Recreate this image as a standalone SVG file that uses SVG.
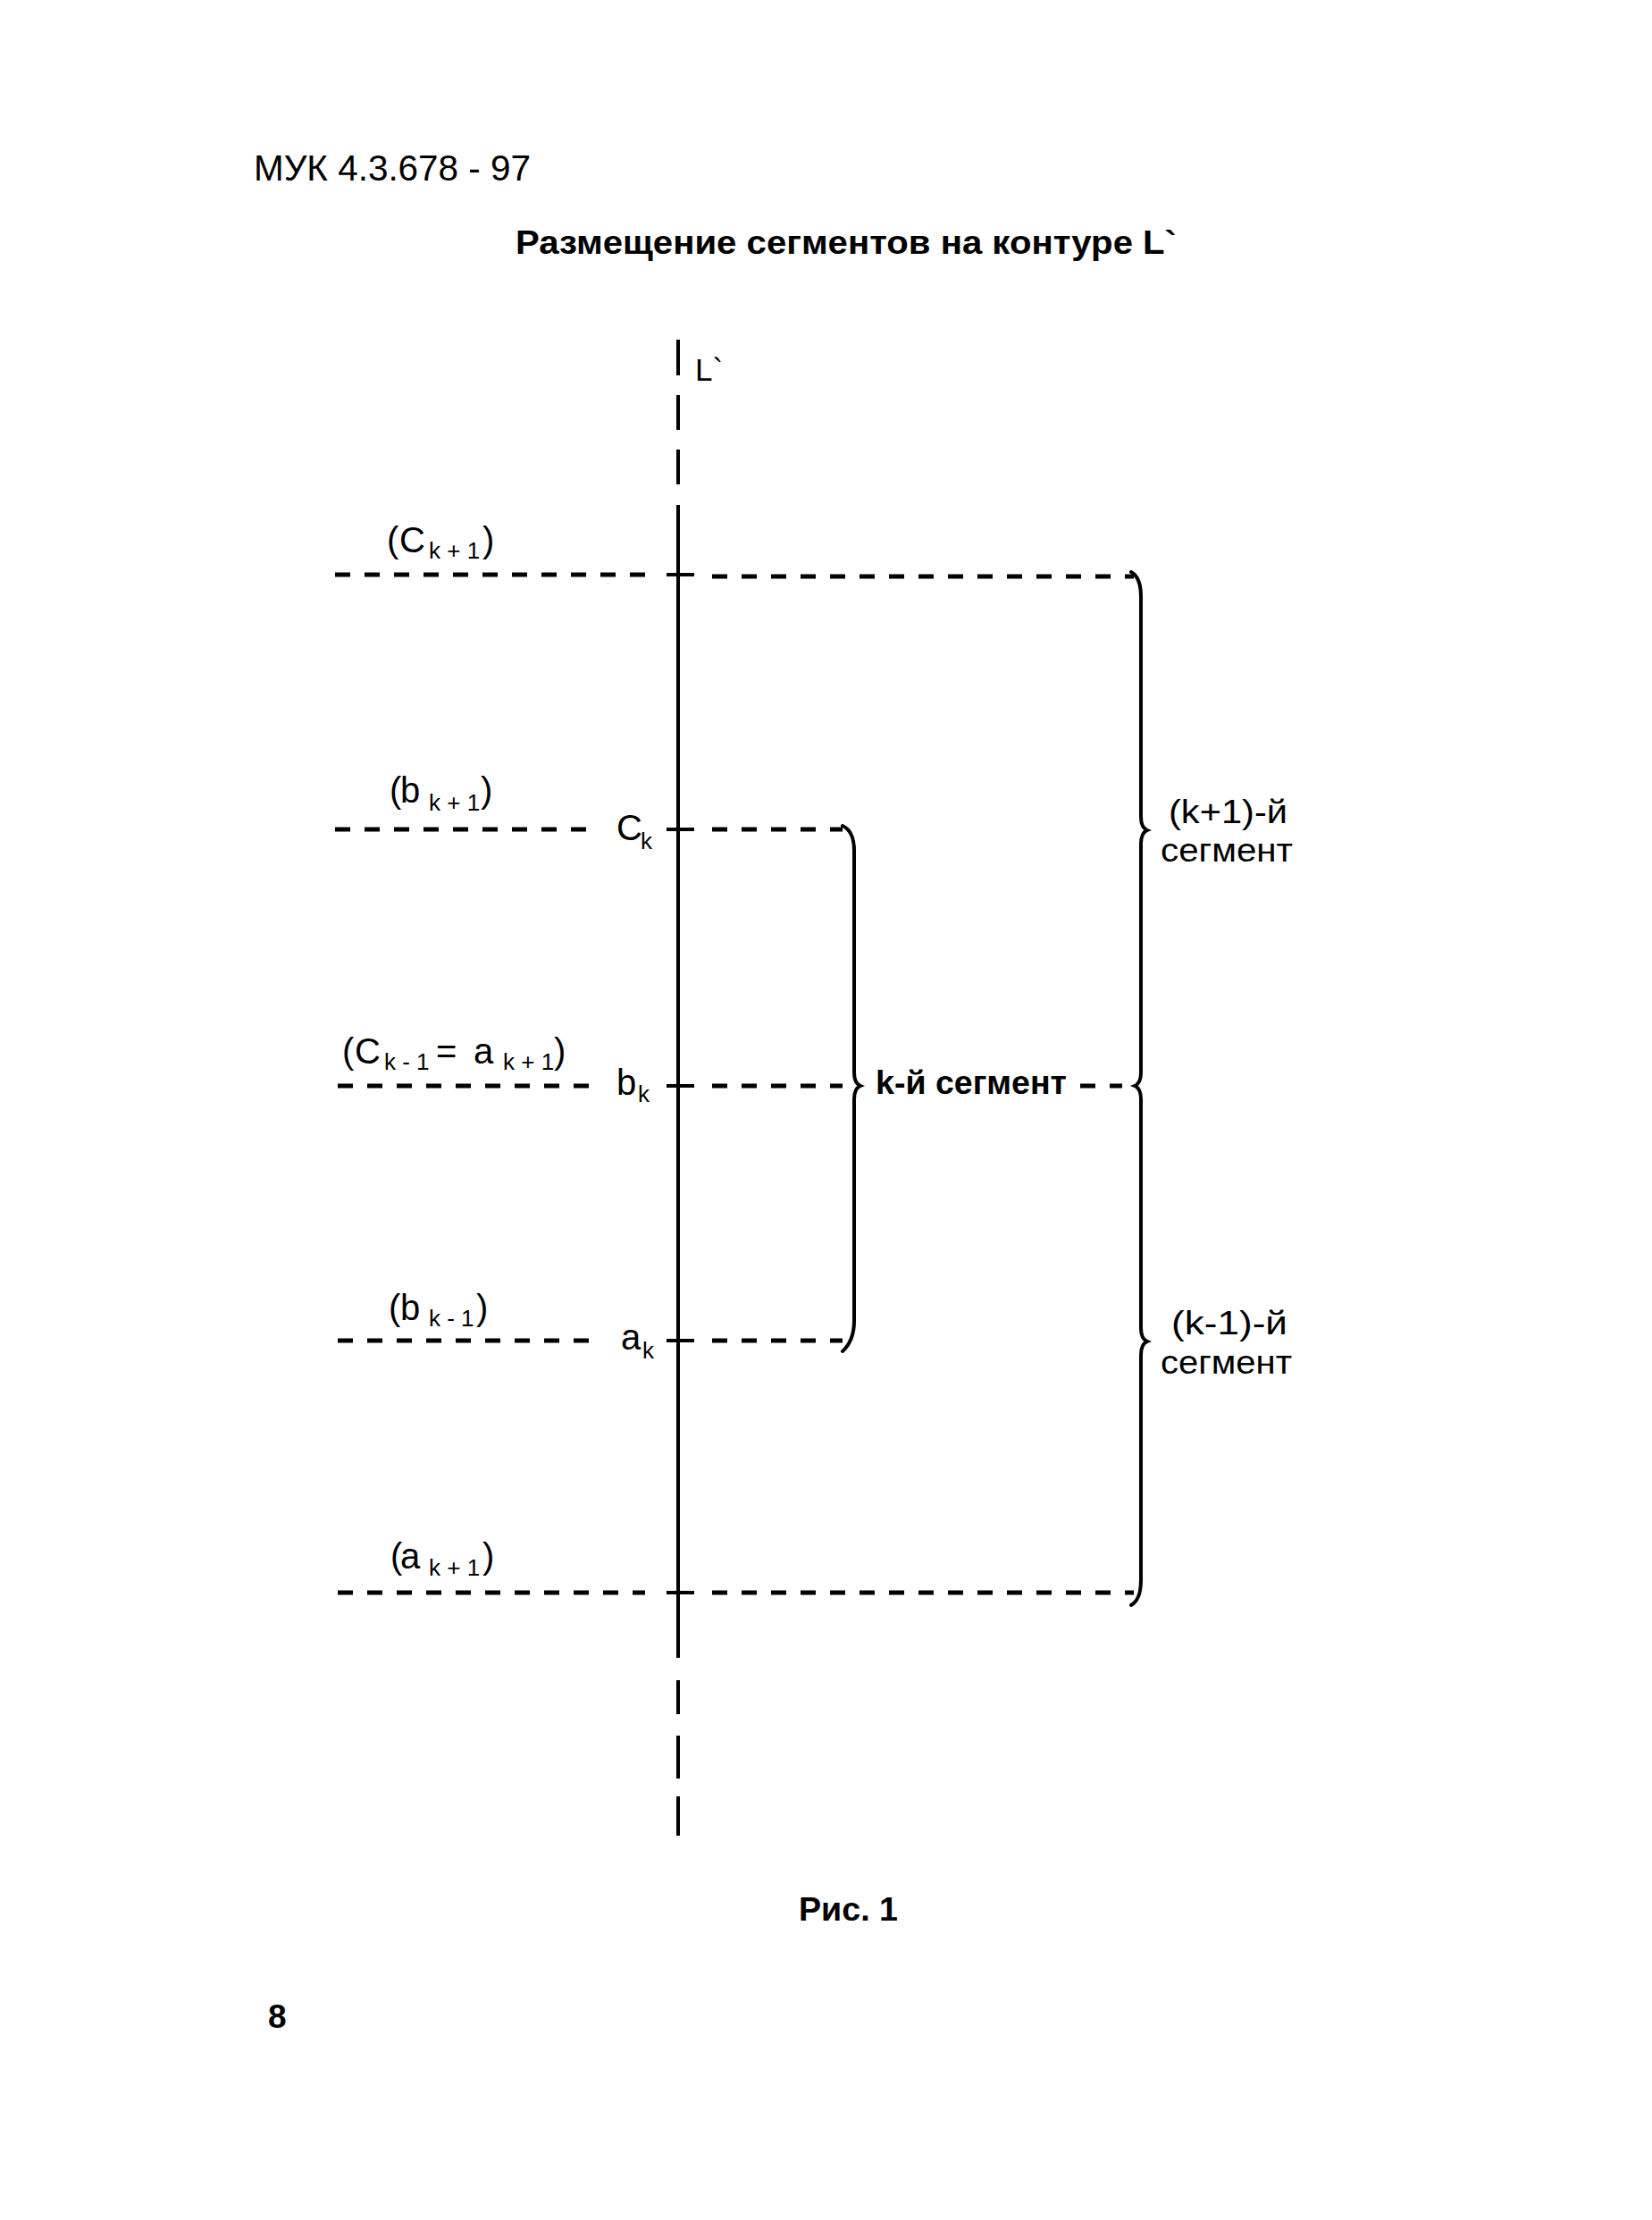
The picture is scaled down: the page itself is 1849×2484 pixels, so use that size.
<svg xmlns="http://www.w3.org/2000/svg" width="1849" height="2484" viewBox="0 0 1849 2484">
<style>
text{font-family:"Liberation Sans",Arial,sans-serif;fill:#000}
.m{font-size:40px}
.s{font-size:26px}
.b{font-weight:bold}
.dash{stroke:#000;stroke-width:5;stroke-dasharray:17 16;fill:none}
.solid{stroke:#000;stroke-width:4;fill:none}
.br{stroke:#000;stroke-width:4;fill:none;stroke-linecap:round}
</style>
<rect width="1849" height="2484" fill="#fff"/>
<g id="header">
<text x="284" y="202" class="m" textLength="310" lengthAdjust="spacingAndGlyphs">МУК 4.3.678 - 97</text>
<text x="577" y="284" class="b" font-size="37" textLength="740" lengthAdjust="spacingAndGlyphs">Размещение сегментов на контуре L`</text>
</g>
<g id="axis">
<line class="solid" x1="759" y1="380" x2="759" y2="420"/>
<line class="solid" x1="759" y1="442" x2="759" y2="481"/>
<line class="solid" x1="759" y1="503" x2="759" y2="542"/>
<line class="solid" x1="759" y1="565" x2="759" y2="1855"/>
<line class="solid" x1="759" y1="1880" x2="759" y2="1918"/>
<line class="solid" x1="759" y1="1942" x2="759" y2="1990"/>
<line class="solid" x1="759" y1="2010" x2="759" y2="2054"/>
<text x="778" y="426" font-size="35">L`</text>
</g>
<g id="connectors">
<line class="dash" x1="375" y1="643" x2="722" y2="643"/>
<line class="dash" x1="375" y1="928" x2="672" y2="928"/>
<line class="dash" x1="378" y1="1215" x2="672" y2="1215"/>
<line class="dash" x1="378" y1="1500" x2="670" y2="1500"/>
<line class="dash" x1="378" y1="1782" x2="722" y2="1782"/>
<line class="solid" x1="746" y1="643" x2="777" y2="643" stroke-width="5"/>
<line class="solid" x1="746" y1="928" x2="777" y2="928" stroke-width="5"/>
<line class="solid" x1="746" y1="1215" x2="777" y2="1215" stroke-width="5"/>
<line class="solid" x1="746" y1="1500" x2="777" y2="1500" stroke-width="5"/>
<line class="solid" x1="746" y1="1782" x2="777" y2="1782" stroke-width="5"/>
<line class="dash" x1="797" y1="645" x2="1269" y2="645"/>
<line class="dash" x1="797" y1="928" x2="943" y2="928"/>
<line class="dash" x1="797" y1="1215" x2="943" y2="1215"/>
<line class="dash" x1="1209" y1="1215" x2="1256" y2="1215"/>
<line class="dash" x1="797" y1="1500" x2="943" y2="1500"/>
<line class="dash" x1="797" y1="1782" x2="1269" y2="1782"/>
</g>
<g id="brace-k">
<path class="br" d="M943 924 Q956 930 956 952 L956 1200 Q956 1212 963 1215 Q956 1218 956 1230 L956 1478 Q956 1500 943 1512"/>
</g>
<g id="brace-big">
<path class="br" d="M1266 640 Q1277 646 1277 668 L1277 914 Q1277 926 1284 929 Q1277 932 1277 944 L1277 1200 Q1277 1212 1270 1215 Q1277 1218 1277 1230 L1277 1486 Q1277 1498 1284 1501 Q1277 1504 1277 1516 L1277 1768 Q1277 1790 1266 1796"/>
</g>
<g id="labels-left">
<text class="m" y="618"><tspan x="433">(</tspan><tspan x="447">C</tspan><tspan x="480" y="625" class="s">k + 1</tspan><tspan x="540" y="618">)</tspan></text>
<text class="m" y="898"><tspan x="436">(</tspan><tspan x="448">b</tspan><tspan x="480" y="907" class="s">k + 1</tspan><tspan x="538" y="898">)</tspan></text>
<text class="m" y="1190"><tspan x="383">(</tspan><tspan x="397">C</tspan><tspan x="430" y="1197" class="s">k - 1</tspan><tspan x="488" y="1190">=</tspan><tspan x="530">a</tspan><tspan x="563" y="1197" class="s">k + 1</tspan><tspan x="620" y="1190">)</tspan></text>
<text class="m" y="1477"><tspan x="435">(</tspan><tspan x="448">b</tspan><tspan x="480" y="1484" class="s">k - 1</tspan><tspan x="533" y="1477">)</tspan></text>
<text class="m" y="1755"><tspan x="437">(</tspan><tspan x="448">a</tspan><tspan x="480" y="1763" class="s">k + 1</tspan><tspan x="540" y="1755">)</tspan></text>
</g>
<g id="points">
<text class="m" y="940"><tspan x="690">C</tspan><tspan x="717" y="950" class="s">k</tspan></text>
<text class="m" y="1225"><tspan x="690">b</tspan><tspan x="714" y="1233" class="s">k</tspan></text>
<text class="m" y="1510"><tspan x="695">a</tspan><tspan x="719" y="1520" class="s">k</tspan></text>
</g>
<g id="segment-labels">
<text x="980" y="1224" class="b" font-size="37" textLength="214" lengthAdjust="spacingAndGlyphs">k-й сегмент</text>
<text x="1308" y="921" font-size="37" textLength="133" lengthAdjust="spacingAndGlyphs">(k+1)-й</text>
<text x="1299" y="964" font-size="37" textLength="148" lengthAdjust="spacingAndGlyphs">сегмент</text>
<text x="1311" y="1493" font-size="37" textLength="130" lengthAdjust="spacingAndGlyphs">(k-1)-й</text>
<text x="1299" y="1537" font-size="37" textLength="147" lengthAdjust="spacingAndGlyphs">сегмент</text>
</g>
<g id="footer">
<text x="894" y="2149" class="b" font-size="37" textLength="111" lengthAdjust="spacingAndGlyphs">Рис. 1</text>
<text x="300" y="2269" class="b" font-size="37">8</text>
</g>
</svg>
